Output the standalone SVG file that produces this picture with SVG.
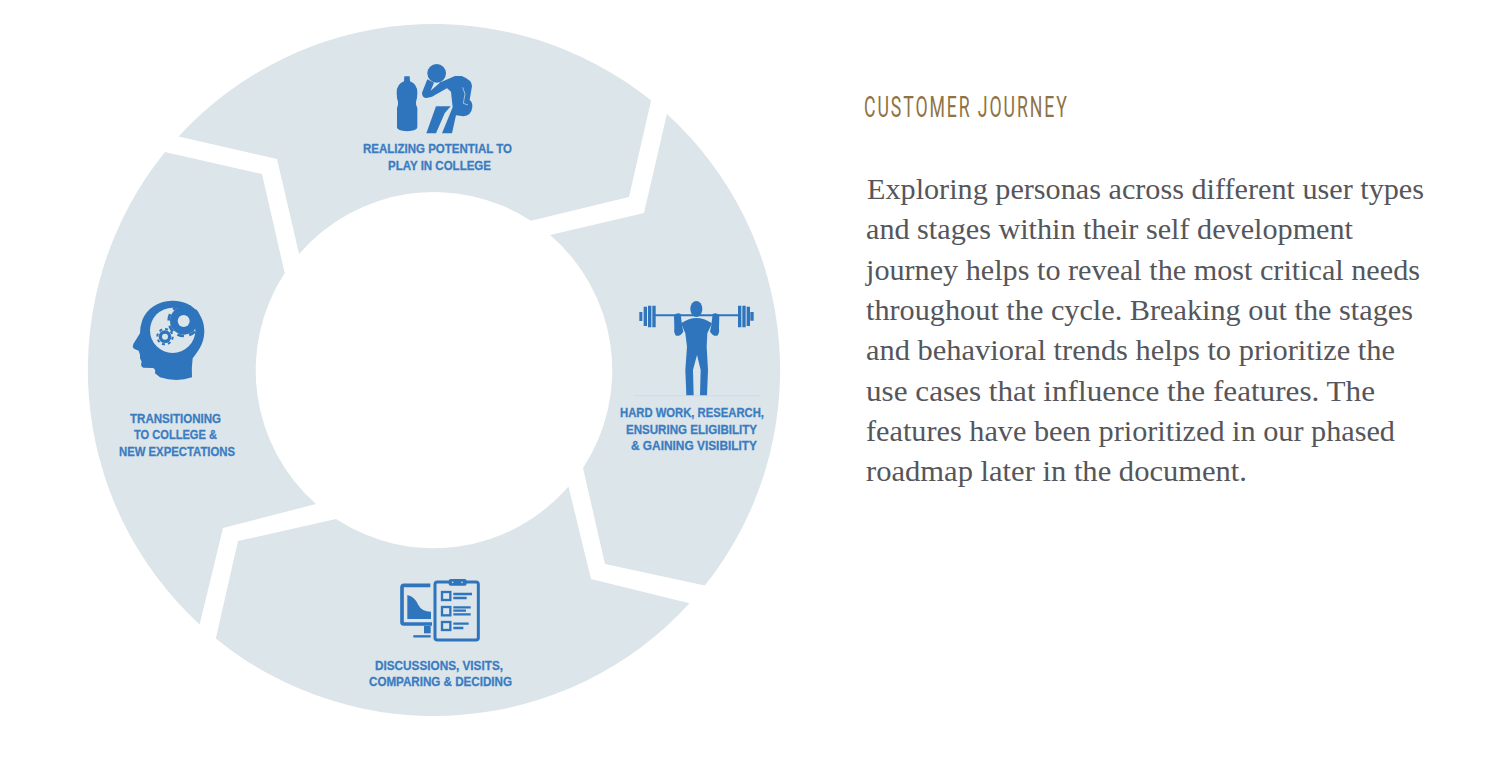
<svg xmlns="http://www.w3.org/2000/svg" width="1500" height="761" viewBox="0 0 1500 761">
<style>
.seg{fill:#dce5e9}
.ic{fill:#2e75bd}
.ln{fill:none;stroke:#2e75bd;stroke-linecap:butt}
.lb{font-family:"Liberation Sans Narrow","Liberation Sans",Arial,sans-serif;font-weight:700;font-size:13.5px;fill:#3a7cc2;stroke:#3a7cc2;stroke-width:.3px}
.h{font-family:Roboto,"Liberation Sans",sans-serif;font-weight:400;font-size:29.5px;fill:#8f7245}
.b{font-family:"Liberation Serif","Times New Roman",serif;font-size:29.5px;fill:#55565b}
</style>
<rect width="1500" height="761" fill="#fff"/>
<g id="node-realizing">
<path class="seg" d="M530.9 220.7L629 197L651.1 100.6A346 346 0 0 0 178.6 136.6L277 159L299.1 253.9A178 178 0 0 1 530.9 220.7Z"/>
<g transform="translate(340 50) scale(.33333)">
<path class="ic" d="M193 79h16l1 15q22 8 22 34q0 16-4 28q-1 8 4 18v58q0 10-31 12q-30-2-30-12v-58q4-10 3-18q-4-12-4-28q0-26 22-34z"/>
<circle class="ic" cx="290" cy="70" r="28"/>
<path class="ic" d="M262 88L246 128Q246 144 260 144L276 140L322 114L302 96L272 122L282 98Z"/>
<path class="ic" d="M298 98L345 78H365Q396 90 396 108L389 150Q398 156 397 172Q394 197 370 199L348 196L336 250H306L338 172L333 125L318 112Z"/>
<path class="ic" d="M288 169H332L314 190L288 250H259Z"/>
<path d="M368 112L375 132L370 160L384 165" fill="none" stroke="#dce5e9" stroke-width="2"/>
</g>
<text class="lb" x="363" y="153.3" textLength="149" lengthAdjust="spacingAndGlyphs">REALIZING POTENTIAL TO</text>
<text class="lb" x="388" y="169.5" textLength="103" lengthAdjust="spacingAndGlyphs">PLAY IN COLLEGE</text>
</g>
<g id="node-hard-work">
<path class="seg" d="M666.9 114.1A346 346 0 0 1 704.8 585.6L605 564L583 468A178 178 0 0 0 550.1 235.1L644 213Z"/>
<g transform="translate(600 290) scale(.33333)">
<path d="M100 317H480" stroke="#ccd8e3" stroke-width="2" fill="none"/>
<path class="ln" d="M165 76H415" stroke-width="6"/>
<path class="ic" d="M118 66h9v27h-9zM131 50h10v58h-10zM144 47h10v65h-10zM157 47h10v65h-10zM414 47h10v65h-10zM427 47h10v65h-10zM440 50h10v58h-10zM451 66h10v26h-10z"/>
<ellipse class="ic" cx="289" cy="57" rx="18" ry="24"/>
<path class="ic" d="M243 100Q268 84 289 84Q312 84 336 100L322 130L320 170L324 240L321 316H300L302 240L291 195L279 240L281 316H259L256 240L261 170L256 130Z"/>
<path class="ic" d="M222 76Q232 66 242 72L246 105L250 125Q240 140 228 137Q221 130 223 115Z"/>
<path class="ic" d="M358 76Q348 66 338 72L334 105L330 125Q340 140 352 137Q359 130 357 115Z"/>
</g>
<text class="lb" x="620" y="417" textLength="144" lengthAdjust="spacingAndGlyphs">HARD WORK, RESEARCH,</text>
<text class="lb" x="626" y="433.5" textLength="131" lengthAdjust="spacingAndGlyphs">ENSURING ELIGIBILITY</text>
<text class="lb" x="631" y="450" textLength="126" lengthAdjust="spacingAndGlyphs">&amp; GAINING VISIBILITY</text>
</g>
<g id="node-discussions">
<path class="seg" d="M689.5 603.3A346 346 0 0 1 215.8 638.5L238 541L336 519A178 178 0 0 0 568.5 486.6L591 579Z"/>
<g transform="translate(350 570) scale(.33333)">
<path class="ln" d="M241 46H162Q156 46 156 52V156Q156 162 162 162H246" stroke-width="11"/>
<path class="ic" d="M172 75V147H243V125Q215 125 205 105Q195 80 172 75Z"/>
<path class="ic" d="M222 168h20v22h-20z"/>
<path class="ln" d="M190 199H242" stroke-width="7"/>
<rect x="255" y="36" width="130" height="174" rx="7" fill="none" stroke="#2e75bd" stroke-width="9"/>
<rect class="ic" x="296" y="27" width="54" height="20" rx="6"/>
<circle cx="308" cy="37" r="2.5" fill="#dce5e9"/><circle cx="336" cy="37" r="2.5" fill="#dce5e9"/>
<g fill="none" stroke="#2e75bd" stroke-width="7">
<rect x="276" y="66" width="25" height="24"/><rect x="276" y="111" width="25" height="25"/><rect x="276" y="156" width="25" height="24"/>
<path d="M310 72H366M310 84H350M310 112H362M310 122H348M310 133H362M310 161H356M310 174H340"/>
</g>
</g>
<text class="lb" x="375" y="669.5" textLength="128" lengthAdjust="spacingAndGlyphs">DISCUSSIONS, VISITS,</text>
<text class="lb" x="369" y="686" textLength="143" lengthAdjust="spacingAndGlyphs">COMPARING &amp; DECIDING</text>
</g>
<g id="node-transitioning">
<path class="seg" d="M199.6 624.5A346 346 0 0 1 165 152L262 174L284.7 273.1A178 178 0 0 0 316 504L223 528Z"/>
<g transform="translate(110 290) scale(.33333)">
<path class="ic" d="M185 32C245 30 285 75 283 125C282 165 262 185 248 205Q244 235 246 262Q200 278 150 262L135 250Q138 236 128 234L100 233Q90 228 95 215L90 205Q92 195 86 182L72 176Q66 170 70 162L90 130Q90 110 97 90C110 55 145 33 185 32Z"/>
<circle cx="188" cy="121" r="68" fill="#dce5e9"/>
<circle class="ic" cx="222" cy="92" r="42"/>
<circle cx="222" cy="92" r="46" fill="none" stroke="#2e75bd" stroke-width="8" stroke-dasharray="20 16"/>
<circle cx="221" cy="93" r="18" fill="#dce5e9"/>
<circle cx="165" cy="140" r="19" class="ic"/>
<circle cx="165" cy="140" r="23" fill="none" stroke="#2e75bd" stroke-width="6" stroke-dasharray="9 9"/>
<circle cx="165" cy="140" r="9" fill="#dce5e9"/>
</g>
<text class="lb" x="130" y="422.5" textLength="91" lengthAdjust="spacingAndGlyphs">TRANSITIONING</text>
<text class="lb" x="134" y="439" textLength="83" lengthAdjust="spacingAndGlyphs">TO COLLEGE &amp;</text>
<text class="lb" x="119" y="455.5" textLength="116" lengthAdjust="spacingAndGlyphs">NEW EXPECTATIONS</text>
</g>
<g id="copy">
<text class="h" transform="translate(864 117) scale(.6 1)" textLength="338" lengthAdjust="spacing">CUSTOMER JOURNEY</text>
<text class="b" x="867" y="199" textLength="557" lengthAdjust="spacingAndGlyphs">Exploring personas across different user types</text>
<text class="b" x="866" y="239" textLength="487" lengthAdjust="spacingAndGlyphs">and stages within their self development</text>
<text class="b" x="866" y="279.5" textLength="554" lengthAdjust="spacingAndGlyphs">journey helps to reveal the most critical needs</text>
<text class="b" x="866" y="320" textLength="547" lengthAdjust="spacingAndGlyphs">throughout the cycle. Breaking out the stages</text>
<text class="b" x="866" y="360" textLength="529" lengthAdjust="spacingAndGlyphs">and behavioral trends helps to prioritize the</text>
<text class="b" x="866" y="400.5" textLength="509" lengthAdjust="spacingAndGlyphs">use cases that influence the features. The</text>
<text class="b" x="866" y="441" textLength="529" lengthAdjust="spacingAndGlyphs">features have been prioritized in our phased</text>
<text class="b" x="866" y="481" textLength="381" lengthAdjust="spacingAndGlyphs">roadmap later in the document.</text>
</g>
</svg>
